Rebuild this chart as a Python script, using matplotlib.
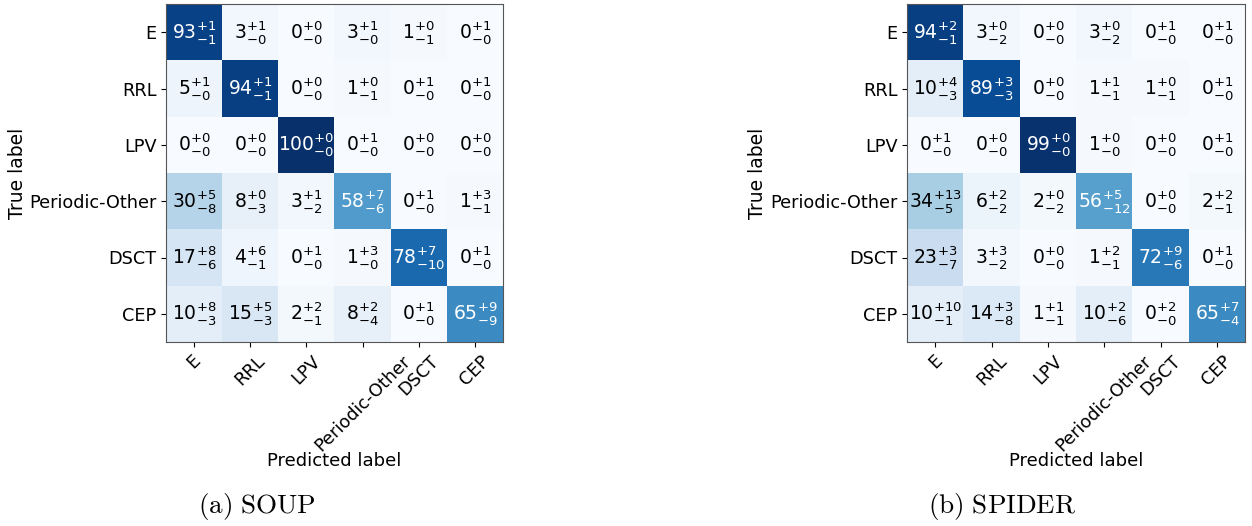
import numpy as np
import matplotlib
matplotlib.use("Agg")
from matplotlib import pyplot as plt

classes = ["E", "RRL", "LPV", "Periodic-Other", "DSCT", "CEP"]

# SOUP: value, +err, -err
soup_val = [[93, 3, 0, 3, 1, 0],
            [5, 94, 0, 1, 0, 0],
            [0, 0, 100, 0, 0, 0],
            [30, 8, 3, 58, 0, 1],
            [17, 4, 0, 1, 78, 0],
            [10, 15, 2, 8, 0, 65]]
soup_up = [[1, 1, 0, 1, 0, 1],
           [1, 1, 0, 0, 1, 1],
           [0, 0, 0, 1, 0, 0],
           [5, 0, 1, 7, 1, 3],
           [8, 6, 1, 3, 7, 1],
           [8, 5, 2, 2, 1, 9]]
soup_lo = [[1, 0, 0, 0, 1, 0],
           [0, 1, 0, 1, 0, 0],
           [0, 0, 0, 0, 0, 0],
           [8, 3, 2, 6, 0, 1],
           [6, 1, 0, 0, 10, 0],
           [3, 3, 1, 4, 0, 9]]

# SPIDER
spider_val = [[94, 3, 0, 3, 0, 0],
              [10, 89, 0, 1, 1, 0],
              [0, 0, 99, 1, 0, 0],
              [34, 6, 2, 56, 0, 2],
              [23, 3, 0, 1, 72, 0],
              [10, 14, 1, 10, 0, 65]]
spider_up = [[2, 0, 0, 0, 1, 1],
             [4, 3, 0, 1, 0, 1],
             [1, 0, 0, 0, 0, 1],
             [13, 2, 0, 5, 0, 2],
             [3, 3, 0, 2, 9, 1],
             [10, 3, 1, 2, 2, 7]]
spider_lo = [[1, 2, 0, 2, 0, 0],
             [3, 3, 0, 1, 1, 0],
             [0, 0, 0, 0, 0, 0],
             [5, 2, 2, 12, 0, 1],
             [7, 2, 0, 1, 6, 0],
             [1, 8, 1, 6, 0, 4]]

captions = [r"$\mathrm{(a)\ SOUP}$", r"$\mathrm{(b)\ SPIDER}$"]


def draw_matrix(ax, val, up, lo):
    val = np.array(val)
    ax.imshow(val, cmap="Blues", vmin=0, vmax=100, aspect="auto")
    n = len(classes)
    for i in range(n):
        for j in range(n):
            txt = r"$%d^{+%d}_{-%d}$" % (val[i, j], up[i][j], lo[i][j])
            ax.text(j, i, txt, ha="center", va="center", fontsize=13.5,
                    color="white" if val[i, j] > 50 else "black")
    ax.set_xticks(np.arange(n))
    ax.set_yticks(np.arange(n))
    ax.set_xticklabels(classes, rotation=45, fontsize=12.7)
    ax.set_yticklabels(classes, fontsize=12.7)
    ax.set_xlabel("Predicted label", fontsize=13)
    ax.set_ylabel("True label", fontsize=13.5)
    ax.xaxis.set_label_coords(0.5, -0.325)
    ax.yaxis.set_label_coords(-0.413, 0.5)
    for s in ax.spines.values():
        s.set_color("#555555")


W, H = 1252, 526
fig = plt.figure(figsize=(W / 100, H / 100), dpi=100)
ax1 = fig.add_axes([166 / W, (H - 342) / H, 337 / W, 338 / H])
ax2 = fig.add_axes([907 / W, (H - 342) / H, 338 / W, 338 / H])

draw_matrix(ax1, soup_val, soup_up, soup_lo)
draw_matrix(ax2, spider_val, spider_up, spider_lo)

# captions in a Computer Modern look
plt.rcParams["mathtext.fontset"] = "cm"
fig.text(257 / W, 1 - 507 / H, captions[0], ha="center", va="center", fontsize=19.5)
fig.text(1002 / W, 1 - 507 / H, captions[1], ha="center", va="center", fontsize=19.5)

fig.savefig("out.png", dpi=100)
